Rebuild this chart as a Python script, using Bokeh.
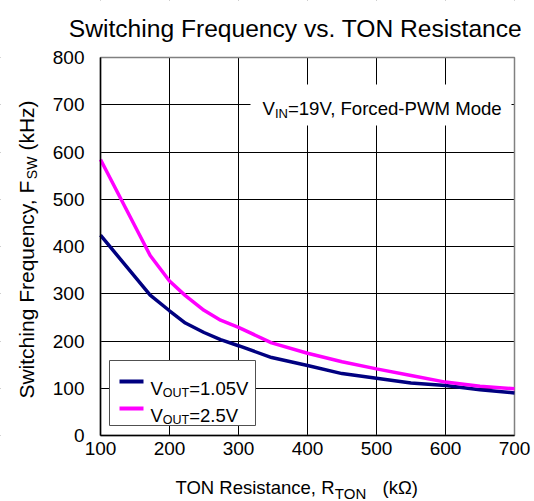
import math
from bokeh.plotting import figure
from bokeh.models import Label, BoxAnnotation, Arrow, Range1d, FixedTicker
from bokeh.embed import file_html
from bokeh.resources import INLINE

# ---------------- data ----------------
ton_resistance_kohm = [100, 172, 200, 223, 250, 274, 300, 348, 400, 450, 500, 550, 600, 650, 700]
fsw_vout_1v05 = [424, 297, 264, 238, 218, 203, 190, 165, 148, 131, 121, 111, 106, 97, 90]
fsw_vout_2v5 = [584, 381, 327, 296, 265, 244, 229, 196, 174, 156, 141, 127, 113, 104, 99]
x_ticks = [100, 200, 300, 400, 500, 600, 700]
y_ticks = [0, 100, 200, 300, 400, 500, 600, 700, 800]

title_text = "Switching Frequency vs. TON Resistance"
series_names = [("V", "OUT", "=1.05V"), ("V", "OUT", "=2.5V")]
note_runs = ("V", "IN", "=19V, Forced-PWM Mode")
xlabel_runs = ("TON Resistance, R", "TON", "(k\u03a9)")
ylabel_runs = ("Switching Frequency, F", "SW", "(kHz)")

NAVY = "#000080"
MAGENTA = "#ff00ff"
FONT = "Liberation Sans"

# ---------------- layout ----------------
W, H = 534, 501
# plot-area edges in canvas pixels
FL, FR, FT, FB = 100, 514, 57, 435
X0, X1, Y0, Y1 = 100, 700, 0, 800
KX = (X1 - X0) / (FR - FL)
KY = (Y1 - Y0) / (FB - FT)

# the frame spans the whole canvas; the data area is a part of it
p = figure(width=W, height=H,
           x_range=Range1d(X0 - FL * KX, X1 + (W - FR) * KX),
           y_range=Range1d(Y0 - (H - FB) * KY, Y1 + FT * KY),
           output_backend="svg", toolbar_location=None,
           min_border_left=0, min_border_right=0, min_border_top=0, min_border_bottom=0)
p.title.visible = False
p.background_fill_color = "white"
p.border_fill_color = "white"
p.outline_line_color = None

p.grid.grid_line_color = "black"
p.grid.grid_line_width = 1
p.xgrid.ticker = FixedTicker(ticks=x_ticks)
p.ygrid.ticker = FixedTicker(ticks=y_ticks)

# white masks hiding grid lines outside the data area
for kw in (dict(right=X0), dict(left=X1), dict(bottom=Y1), dict(top=Y0)):
    p.add_layout(BoxAnnotation(level="underlay", fill_color="white", fill_alpha=1.0,
                               line_alpha=0.0, **kw))
# data-area border
p.add_layout(BoxAnnotation(level="underlay", left=X0, right=X1, bottom=Y0, top=Y1,
                           fill_alpha=0.0, line_color="#808080", line_alpha=1.0,
                           line_width=1.5))

for ax in (p.xaxis[0], p.yaxis[0]):
    ax.major_tick_in = 0
    ax.major_tick_out = 0
    ax.minor_tick_in = 0
    ax.minor_tick_out = 0
    ax.axis_line_color = "black"
    ax.axis_line_width = 1.5
    ax.major_label_text_font = FONT
    ax.major_label_text_font_size = "19px"
    ax.major_label_text_color = "black"
p.xaxis.ticker = FixedTicker(ticks=x_ticks)
p.yaxis.ticker = FixedTicker(ticks=y_ticks)
p.xaxis.fixed_location = Y0
p.yaxis.fixed_location = X0
p.xaxis.bounds = (X0, X1)
p.yaxis.bounds = (Y0, Y1)
p.xaxis.major_label_standoff = 6
p.yaxis.major_label_standoff = 16

p.line(ton_resistance_kohm, fsw_vout_1v05, line_color=NAVY, line_width=3.5)
p.line(ton_resistance_kohm, fsw_vout_2v5, line_color=MAGENTA, line_width=3.5)

# ---------------- text helpers ----------------
ARIAL = {' ': 278, '(': 333, ')': 333, ',': 278, '-': 333, '.': 278, '=': 584,
         'A': 667, 'B': 667, 'C': 722, 'D': 722, 'E': 667, 'F': 611, 'G': 778, 'H': 722,
         'I': 278, 'J': 500, 'K': 667, 'L': 556, 'M': 833, 'N': 722, 'O': 778, 'P': 667,
         'Q': 778, 'R': 722, 'S': 667, 'T': 611, 'U': 722, 'V': 667, 'W': 944, 'X': 667,
         'Y': 667, 'Z': 611, 'a': 556, 'b': 556, 'c': 500, 'd': 556, 'e': 556, 'f': 278,
         'g': 556, 'h': 556, 'i': 222, 'j': 222, 'k': 500, 'l': 222, 'm': 833, 'n': 556,
         'o': 556, 'p': 556, 'q': 556, 'r': 333, 's': 500, 't': 278, 'u': 556, 'v': 500,
         'w': 722, 'x': 500, 'y': 500, 'z': 500, '\u03a9': 768}


def tw(s, size):
    return sum(ARIAL.get(c, 556) for c in s) / 1000.0 * size


def cx2x(cx):
    return X0 + (cx - FL) * KX


def cy2y(cy):
    return Y0 + (FB - cy) * KY


def add_label(cx, cy, text, size, angle=0.0, align="left"):
    p.add_layout(Label(x=cx2x(cx), y=cy2y(cy), text=text, angle=angle,
                       text_font=FONT, text_font_size=f"{size}px", text_color="black",
                       text_align=align, text_baseline="alphabetic"))


def sub_runs(cx, cy, runs, size, sub_size, sub_dy, gap=0.0):
    sizes = [size, sub_size, size]
    cur = cx
    for i, (t, s) in enumerate(zip(runs, sizes)):
        if i == 2:
            cur += gap
        add_label(cur, cy + (sub_dy if i == 1 else 0), t, s)
        cur += tw(t, s)


def sub_runs_vertical(cx, cy_center, runs, size, sub_size, sub_dy, gap=0.0):
    sizes = [size, sub_size, size]
    total = sum(tw(t, s) for t, s in zip(runs, sizes)) + gap
    cur = cy_center + total / 2
    for i, (t, s) in enumerate(zip(runs, sizes)):
        if i == 2:
            cur -= gap
        add_label(cx + (sub_dy if i == 1 else 0), cur, t, s, angle=math.pi / 2)
        cur -= tw(t, s)


# title
add_label(295, 28, title_text, 24.6, align="center")

# axis labels
sub_runs(175, 487, xlabel_runs, 18.5, 15, 6, gap=16)
sub_runs_vertical(26, 249, ylabel_runs, 21, 14, 5, gap=6)

# annotation with white background
p.add_layout(BoxAnnotation(left=cx2x(250), right=cx2x(511), top=cy2y(84), bottom=cy2y(125),
                           fill_color="white", fill_alpha=1.0, line_alpha=0.0))
sub_runs(262, 108, note_runs, 18.6, 13, 5)

# legend (manual, for subscripts)
p.add_layout(BoxAnnotation(left=cx2x(109), right=cx2x(255), top=cy2y(360), bottom=cy2y(425),
                           fill_color="white", fill_alpha=1.0, line_color="#505050",
                           line_alpha=1.0, line_width=1))
for (name, color, row_cy) in zip(series_names, [NAVY, MAGENTA], [381, 408]):
    p.add_layout(Arrow(end=None, x_start=cx2x(119), x_end=cx2x(143),
                       y_start=cy2y(row_cy), y_end=cy2y(row_cy),
                       line_color=color, line_width=4))
    sub_runs(150, row_cy + 7, name, 18.5, 12.5, 4)

open("out.html", "w").write(file_html(p, INLINE))
